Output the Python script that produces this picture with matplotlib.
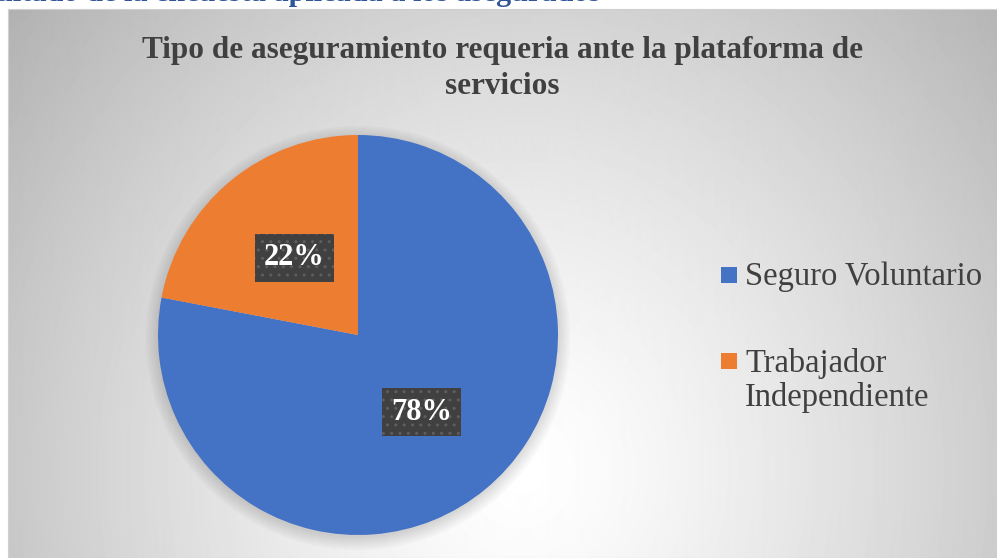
import numpy as np
import matplotlib.pyplot as plt
from matplotlib.patches import Rectangle, Circle

# data
categories = ['Seguro Voluntario', 'Trabajador\nIndependiente']
values = [78, 22]
colors = ['#4472C4', '#ED7D31']
title = 'Tipo de aseguramiento requeria ante la plataforma de\nservicios'
caption = 'Resultado de la encuesta aplicada a los asegurados'

W, H = 997, 558
plt.rcParams['font.family'] = ['Liberation Serif', 'DejaVu Serif']
plt.rcParams['hatch.color'] = '#5e5e5e'

fig = plt.figure(figsize=(W / 100, H / 100), dpi=100)
fig.patch.set_facecolor('white')

def px(x, y):
    # pixel (from top-left) -> figure fraction
    return x / W, 1 - y / H

# cut-off caption above the chart (only its bottom shows, like the source)
fig.text(*px(600, 0.6), caption, ha='right', va='baseline', fontsize=21.8,
         fontweight='bold', color='#2F5597')

# chart area with radial gray gradient
x0, y0 = 8, 9
bg = fig.add_axes([x0 / W, 0, (W - x0) / W, (H - y0) / H])
gx, gy = np.meshgrid(np.arange(x0, W), np.arange(y0, H))
r = np.sqrt(((gx - 520) / 520) ** 2 + ((gy - 470) / 560) ** 2)
shade = np.clip(1 - 0.22 * r ** 1.3, 0, 1)
bg.imshow(shade, cmap='gray', vmin=0, vmax=1, aspect='auto',
          extent=[0, 1, 0, 1], interpolation='bilinear')
bg.set_xticks([])
bg.set_yticks([])
for s in bg.spines.values():
    s.set_color('#d0d0d0')
    s.set_linewidth(0.8)

fig.text(502 / W, 1 - 36 / H, title, ha='center', va='top', fontsize=22.5,
         fontweight='bold', color='#404040', linespacing=1.3)

# pie
cx, cy, rad = 358, 335, 200
ax = fig.add_axes([(cx - rad) / W, 1 - (cy + rad) / H, 2 * rad / W, 2 * rad / H])
ax.set_facecolor('none')
# soft shadow under the pie
for k in range(6):
    ax.add_patch(Circle((0, -0.015), 1.0 + 0.012 * k, facecolor='black',
                        alpha=0.025, edgecolor='none', zorder=0, clip_on=False))
wedges, texts, autotexts = ax.pie(
    values, colors=colors, startangle=90, counterclock=False,
    autopct='%1.0f%%', pctdistance=0.5, radius=1,
    textprops=dict(color='white', fontsize=22, fontweight='bold'))
for t in autotexts:
    t.set_bbox(dict(boxstyle='square,pad=0.3', facecolor='#404040',
                    edgecolor='#5e5e5e', linewidth=0, hatch='..'))
ax.set_xlim(-1, 1)
ax.set_ylim(-1, 1)

# legend
leg_y = [267, 353]
for lab, col, yy in zip(categories, colors, leg_y):
    fig.patches.append(Rectangle(px(721, yy + 16), 16 / W, 16 / H,
                                 transform=fig.transFigure, facecolor=col,
                                 edgecolor='none'))
    fig.text(*px(745, yy - 5), lab, ha='left', va='top', fontsize=23.5,
             color='#404040', linespacing=1.12)

fig.savefig('out.png', dpi=100)
